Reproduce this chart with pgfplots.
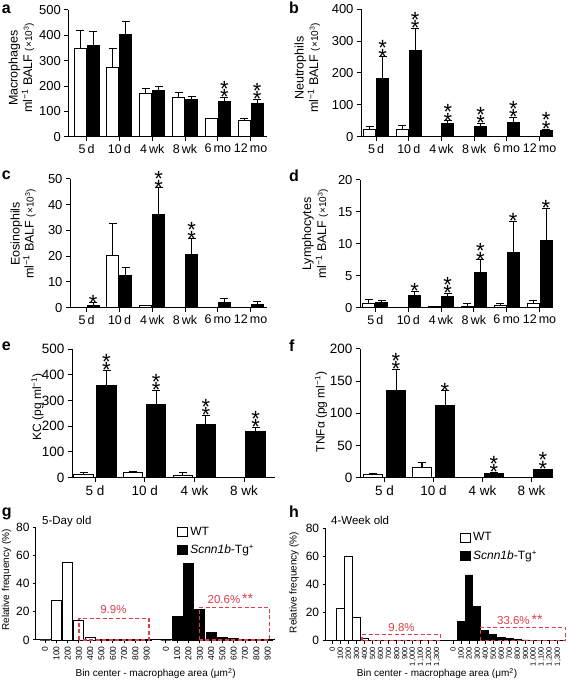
\documentclass[border=0pt]{standalone}
\usepackage{fontspec}
\setmainfont{Liberation Sans}
\usepackage{pgfplots}
\pgfplotsset{compat=1.18}
\definecolor{sigred}{RGB}{222,62,72}
\newcommand{\fs}[1]{\fontsize{#1}{#1}\selectfont}
\newcommand{\sigone}[3]{\node[sig, xshift=#3] at (axis cs:#1,#2) {*};}
\newcommand{\sigtwo}[3]{\node[sig, xshift=#3] at (axis cs:#1,#2) {*\llap{\raisebox{8.5pt}{*}}};}
\tikzset{sig/.style={anchor=base, inner sep=0pt, font=\fs{22}, yshift=-7.3pt},
  redbox/.style={draw=sigred, line width=1.2pt, dash pattern=on 4pt off 2.5pt}}
\pgfplotsset{
  base/.style={
    scale only axis, clip=false, anchor=south west,
    axis x line*=bottom, axis y line*=left,
    axis line style={line width=1pt, -},
    tick align=outside, major tick length=4pt,
    tick style={line width=1pt, black},
    /pgf/number format/assume math mode=true,
    ymin=0,
  },
  barA/.style={base, ybar=1pt, bar width=12pt,
    xtick={0,...,5},
    xticklabels={5\,d,10\,d,4\,wk,8\,wk,6\,mo,12\,mo},
    xticklabel style={font=\fs{12.5}},
    yticklabel style={font=\fs{13}},
  },
  barE/.style={base, ybar=3.5pt, bar width=19.5pt,
    xtick={0,...,3},
    xticklabels={5 d,10 d,4 wk,8 wk},
    xticklabel style={font=\fs{13.5}},
    yticklabel style={font=\fs{13.5}},
  },
  errs/.style={line width=1pt, error bars/.cd, y dir=plus, y explicit,
    error bar style={line width=1pt, black},
    error mark options={rotate=90, mark size=4pt, line width=1pt, black}},
  wt/.style={fill=white, draw=black, errs},
  tg/.style={fill=black, draw=black, errs},
  hist/.style={base, ymax=80, ytick={0,20,40,60,80},
    yticklabel style={font=\fs{12}},
    major tick length=3pt,
    xticklabel style={rotate=90, anchor=east},
    legend style={draw=none, fill=none, inner sep=0pt, outer sep=0pt, row sep=4pt,
      font=\fs{12}, anchor=north west},
    legend cell align=left,
    legend image code/.code={\draw[##1, line width=1pt] (0pt,-4.5pt) rectangle (10.5pt,4.5pt);},
  },
}
\begin{document}
\begin{tikzpicture}
\path[use as bounding box] (0,0) rectangle (567pt,682pt);

% ---------- a ----------
\begin{axis}[barA, at={(68.3pt,545.3pt)}, width=198.7pt, height=126.7pt,
  xmin=-0.56, xmax=5.5, ymax=500, ytick={0,100,...,500}]
\addplot[wt] coordinates {(0,350)+-(0,70) (1,274)+-(0,75) (2,171)+-(0,20) (3,154)+-(0,21) (4,70)+-(0,2) (5,63)+-(0,9)};
\addplot[tg] coordinates {(0,359)+-(0,58) (1,405)+-(0,49) (2,182)+-(0,18) (3,145)+-(0,15) (4,138)+-(0,16) (5,130)+-(0,17)};
\sigtwo{4}{154}{6.5pt}
\sigtwo{5}{147}{6.5pt}
\end{axis}

% ---------- b ----------
\begin{axis}[barA, at={(361pt,545.3pt)}, width=192pt, height=127.4pt,
  xmin=-0.46, xmax=5.41, ymax=400, ytick={0,100,...,400}]
\addplot[wt] coordinates {(0,23)+-(0,10.5) (1,23)+-(0,11.5) (2,0)+-(0,0) (3,0)+-(0,0) (4,0)+-(0,0) (5,0.5)+-(0,0)};
\addplot[tg] coordinates {(0,183)+-(0,68) (1,270)+-(0,70) (2,42)+-(0,8) (3,33.5)+-(0,8.5) (4,44)+-(0,17) (5,18)+-(0,6)};
\sigtwo{0}{251}{6.5pt}
\sigtwo{1}{340}{6.5pt}
\sigtwo{2}{50}{6.5pt}
\sigtwo{3}{42}{6.5pt}
\sigtwo{4}{61}{6.5pt}
\sigtwo{5}{24}{6.5pt}
\end{axis}

% ---------- c ----------
\begin{axis}[barA, at={(70pt,374.3pt)}, width=197pt, height=128.7pt,
  xmin=-0.51, xmax=5.5, ymax=50, ytick={0,10,...,50}]
\addplot[wt] coordinates {(0,0)+-(0,0) (1,20.1)+-(0,12.7) (2,0.8)+-(0,0.2) (3,0.2)+-(0,0) (4,0)+-(0,0) (5,0)+-(0,0)};
\addplot[tg] coordinates {(0,1.0)+-(0,0.9) (1,12.7)+-(0,3) (2,36.4)+-(0,10.2) (3,20.5)+-(0,6.2) (4,2.1)+-(0,1.5) (5,1.4)+-(0,0.9)};
\sigone{0}{1.9}{6.5pt}
\sigtwo{2}{46.6}{6.5pt}
\sigtwo{3}{26.7}{6.5pt}
\end{axis}

% ---------- d ----------
\begin{axis}[barA, at={(360pt,374.3pt)}, width=191pt, height=127.7pt,
  xmin=-0.47, xmax=5.35, ymax=20, ytick={0,5,...,20}]
\addplot[wt] coordinates {(0,0.7)+-(0,0.6) (1,0)+-(0,0) (2,0.15)+-(0,0.05) (3,0.26)+-(0,0.4) (4,0.4)+-(0,0.2) (5,0.7)+-(0,0.35)};
\addplot[tg] coordinates {(0,0.8)+-(0,0.4) (1,1.9)+-(0,0.7) (2,1.7)+-(0,0.5) (3,5.5)+-(0,2) (4,8.7)+-(0,4.8) (5,10.6)+-(0,5)};
\sigone{1}{2.6}{6.5pt}
\sigtwo{2}{2.2}{6.5pt}
\sigtwo{3}{7.5}{6.5pt}
\sigone{4}{13.5}{6.5pt}
\sigone{5}{15.6}{6.5pt}
\end{axis}

% ---------- e ----------
\begin{axis}[barE, at={(72pt,204.3pt)}, width=203pt, height=128.7pt,
  xmin=-0.463, xmax=3.622, ymax=500, ytick={0,100,...,500}]
\addplot[wt] coordinates {(0,14)+-(0,5) (1,19.5)+-(0,5) (2,10.4)+-(0,9) (3,1)+-(0,0)};
\addplot[tg] coordinates {(0,357)+-(0,58) (1,283)+-(0,56) (2,205)+-(0,37) (3,179)+-(0,16)};
\sigtwo{0}{416}{11.5pt}
\sigtwo{1}{339}{11.5pt}
\sigtwo{2}{242}{11.5pt}
\sigtwo{3}{195}{11.5pt}
\end{axis}

% ---------- f ----------
\begin{axis}[barE, at={(360pt,204.3pt)}, width=188pt, height=128.7pt,
  xmin=-0.5, xmax=3.337, ymax=200, ytick={0,50,...,200}]
\addplot[wt] coordinates {(0,5.2)+-(0,2) (1,15.5)+-(0,8.3) (2,0)+-(0,0) (3,0)+-(0,0)};
\addplot[tg] coordinates {(0,135)+-(0,33.6) (1,111.7)+-(0,23.3) (2,7.2)+-(0,1.1) (3,12.4)+-(0,1.1)};
\sigtwo{0}{168.6}{11.5pt}
\sigone{1}{135}{11.5pt}
\sigtwo{2}{8.3}{11.5pt}
\sigtwo{3}{13.5}{11.5pt}
\end{axis}

% ---------- g ----------
\begin{axis}[hist, at={(36pt,42pt)}, width=239pt, height=112.7pt,
  xmin=-0.8, xmax=20.35,
  xtick={0,1,2,3,4,5,6,7,8,9,10.7,11.7,12.7,13.7,14.7,15.7,16.7,17.7,18.7,19.7},
  xticklabels={0,100,200,300,400,500,600,700,800,900,0,100,200,300,400,500,600,700,800,900},
  xticklabel style={font=\fs{8.5}},
  legend style={at={(0.589,1.02)}}]
\addplot[ybar, bar width=10pt, bar shift=0pt, fill=white, draw=black, line width=0.9pt]
  coordinates {(0,0) (1,28.4) (2,54.9) (3,14.2) (4,1.9) (5,0.3) (6,0.15) (7,0.1) (8,0.05) (9,0.05)};
\addlegendentry{WT}
\addplot[ybar, bar width=10pt, bar shift=0pt, fill=black, draw=black, line width=0.9pt]
  coordinates {(10.7,0) (11.7,17.0) (12.7,54.0) (13.7,21.8) (14.7,5.2) (15.7,1.7) (16.7,0.9) (17.7,0.4) (18.7,0.2) (19.7,0.1)};
\addlegendentry{\textit{Scnn1b}-Tg\textsuperscript{+}}
\draw[redbox] (axis cs:13.67,0) rectangle (axis cs:19.84,23.2);
\draw[redbox] (axis cs:3,0) rectangle (axis cs:9.2,15.4);
\node[text=sigred, font=\fs{11.5}] at (axis cs:6.05,21.8) {9.9\%};
\node[text=sigred, font=\fs{11.5}] at (axis cs:16.4,29.6) {20.6\%\,{\fs{14}**}};
\end{axis}

% ---------- h ----------
\begin{axis}[hist, at={(325.7pt,41.3pt)}, width=240pt, height=112.4pt,
  xmin=-0.82, xmax=29.0,
  xtick={0,1,2,3,4,5,6,7,8,9,10,11,12,13,15,16,17,18,19,20,21,22,23,24,25,26,27,28},
  xticklabels={0,100,200,300,400,500,600,700,800,900,{1,000},{1,100},{1,200},{1,300},0,100,200,300,400,500,600,700,800,900,{1,000},{1,100},{1,200},{1,300}},
  xticklabel style={font=\fs{7.5}},
  legend style={at={(0.558,0.979)}}]
\addplot[ybar, bar width=7.3pt, bar shift=0pt, fill=white, draw=black, line width=0.9pt]
  coordinates {(0,0) (1,23.0) (2,60.3) (3,16.4) (4,1.7) (5,0.3) (6,0.1) (7,0.05) (8,0.05) (9,0.02) (10,0.02) (11,0.02) (12,0.02) (13,0.02)};
\addlegendentry{WT}
\addplot[ybar, bar width=7.3pt, bar shift=0pt, fill=black, draw=black, line width=0.9pt]
  coordinates {(15,0.3) (16,13.5) (17,46.8) (18,24.2) (19,7.6) (20,4.5) (21,2.4) (22,1.4) (23,0.7) (24,0.5) (25,0.3) (26,0.2) (27,0.1) (28,0.1)};
\addlegendentry{\textit{Scnn1b}-Tg\textsuperscript{+}}
\draw[redbox] (axis cs:18.4,0) rectangle (axis cs:28.97,9.5);
\draw[redbox] (axis cs:3.7,0) rectangle (axis cs:13.4,4.5);
\node[text=sigred, font=\fs{11.5}] at (axis cs:8.6,9.5) {9.8\%};
\node[text=sigred, font=\fs{11.5}] at (axis cs:23.3,15.2) {33.6\%\,{\fs{14}**}};
\end{axis}

% ---------- labels ----------
\begin{scope}[every node/.style={inner sep=0pt}]
\node[anchor=base west, font=\fs{16}\bfseries] at (1.7pt,668.7pt) {a};
\node[anchor=base west, font=\fs{16}\bfseries] at (289pt,668pt) {b};
\node[anchor=base west, font=\fs{16}\bfseries] at (1.7pt,502pt) {c};
\node[anchor=base west, font=\fs{16}\bfseries] at (289pt,500.5pt) {d};
\node[anchor=base west, font=\fs{16}\bfseries] at (1.7pt,331pt) {e};
\node[anchor=base west, font=\fs{16}\bfseries] at (289pt,330.5pt) {f};
\node[anchor=base west, font=\fs{16}\bfseries] at (1.7pt,165pt) {g};
\node[anchor=base west, font=\fs{16}\bfseries] at (289pt,164pt) {h};

\node[rotate=90, font=\fs{12.5}] at (14.5pt,614pt) {Macrophages};
\node[rotate=90, font=\fs{12.5}] at (28pt,614pt) {ml\textsuperscript{−1} BALF {\fs{10}(×10\textsuperscript{3})}};
\node[rotate=90, font=\fs{12.5}] at (300.5pt,614pt) {Neutrophils};
\node[rotate=90, font=\fs{12.5}] at (314pt,614pt) {ml\textsuperscript{−1} BALF {\fs{10}(×10\textsuperscript{3})}};
\node[rotate=90, font=\fs{12.5}] at (16.5pt,448pt) {Eosinophils};
\node[rotate=90, font=\fs{12.5}] at (29.5pt,448pt) {ml\textsuperscript{−1} BALF {\fs{10}(×10\textsuperscript{3})}};
\node[rotate=90, font=\fs{12.5}] at (308pt,448pt) {Lymphocytes};
\node[rotate=90, font=\fs{12.5}] at (322pt,448pt) {ml\textsuperscript{−1} BALF {\fs{10}(×10\textsuperscript{3})}};
\node[rotate=90, font=\fs{12}] at (37.5pt,275pt) {KC (pg ml\textsuperscript{−1})};
\node[rotate=90, font=\fs{12}] at (321pt,270pt) {TNFα (pg ml\textsuperscript{−1})};
\node[rotate=90, font=\fs{10}] at (6.5pt,102pt) {Relative frequency (\%)};
\node[rotate=90, font=\fs{10}] at (294pt,99.5pt) {Relative frequency (\%)};

\node[anchor=base west, font=\fs{11.5}] at (42pt,157pt) {5-Day old};
\node[anchor=base west, font=\fs{11.5}] at (331pt,157pt) {4-Week old};
\node[anchor=base, font=\fs{10}] at (155.7pt,5.3pt) {Bin center - macrophage area (μm\textsuperscript{2})};
\node[anchor=base, font=\fs{10}] at (437pt,5.3pt) {Bin center - macrophage area (μm\textsuperscript{2})};
\end{scope}
\end{tikzpicture}
\end{document}
